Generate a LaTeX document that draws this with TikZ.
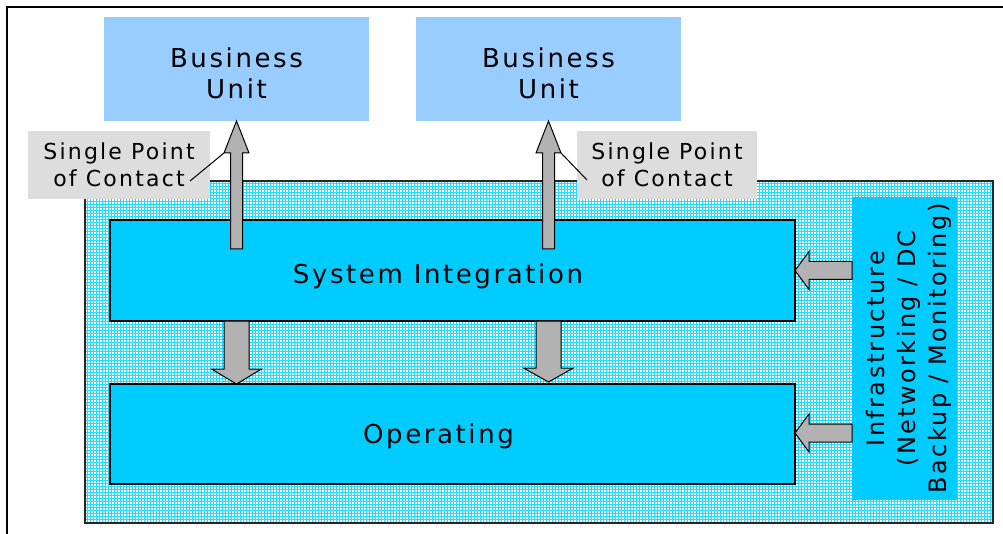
\documentclass[tikz,border=0pt]{standalone}
\usepackage{fontspec}
\setmainfont{DejaVu Sans}[LetterSpace=10]
\usetikzlibrary{patterns,calc}
\definecolor{bublue}{HTML}{99CCFF}
\definecolor{sicyan}{HTML}{00CCFF}
\definecolor{lblgray}{HTML}{DDDDDD}
\definecolor{arrgray}{HTML}{B2B2B2}
\definecolor{gridcyan}{HTML}{20DDFF}
\begin{document}
\begin{tikzpicture}[x=1pt,y=-1pt,
  box/.style={rectangle, inner sep=0pt, outer sep=0pt},
  bubox/.style={box, fill=bublue, minimum width=265pt, minimum height=104pt},
  spcbox/.style={box, fill=lblgray, minimum height=68pt, align=center,
    font=\fontsize{22}{27}\selectfont},
  layerbox/.style={box, fill=sicyan, draw=black, line width=1.2pt,
    minimum width=685pt},
  bigtext/.style={inner sep=0pt, align=center, font=\fontsize{26}{31}\selectfont},
  infratext/.style={inner sep=0pt, align=center, font=\fontsize{24}{31}\selectfont},
  blockarrow/.style={fill=arrgray, draw=black, line width=1pt, line join=miter},
  callout/.style={draw=black, line width=1pt},
]
\useasboundingbox (0,0) rectangle (1003,534);
% outer frame (cropped)
\draw[line width=2pt, black] (7,534) -- (7,7) -- (1003,7);
% hatched background
\node[box, minimum width=908pt, minimum height=342pt, preaction={fill=white},
  pattern=grid, pattern color=gridcyan, draw=black!85, line width=1.3pt] (bg) at (539,352) {};
% business units
\node[bubox] (bu1) at (236.5,69) {};
\node[bubox] (bu2) at (548.5,69) {};
\node[bigtext] (bu1t) at ($(bu1.center)+(0,4.5)$) {Business\\Unit};
\node[bigtext] (bu2t) at ($(bu2.center)+(0,4.5)$) {Business\\Unit};
% layers
\node[layerbox, minimum height=101pt] (si) at (452.5,270.5) {};
\node[layerbox, minimum height=100pt] (op) at (452.5,434) {};
\node[box, fill=sicyan, minimum width=105pt, minimum height=303pt] (infra) at (904.5,348.5) {};
\node[bigtext] (sit) at ($(si.center)+(-14.5,5.5)$) {System Integration};
\node[bigtext] (opt) at ($(op.center)+(-14,2)$) {Operating};
\node[infratext, rotate=90] (infrat) at ($(infra.center)+(4.5,0)$)
  {Infrastructure\\(Networking / DC\\Backup / Monitoring)};
% up arrows
\draw[blockarrow] (bu1.south) -- ++(12.5,32) -- ++(-6.5,0) -- ++(0,96) -- ++(-12,0)
  -- ++(0,-96) -- ++(-6.5,0) coordinate (h1l) -- cycle;
\draw[blockarrow] (bu2.south) -- ++(12.5,32) coordinate (h2r) -- ++(-6.5,0) -- ++(0,96) -- ++(-12,0)
  -- ++(0,-96) -- ++(-6.5,0) -- cycle;
% down arrows
\draw[blockarrow] ($(bu1.south |- si.south)+(-12.5,0)$) -- ++(25,0) -- ++(0,48) -- ++(12.5,0)
  -- (bu1.south |- op.north) -- ++(-25,-15) -- ++(12.5,0) -- cycle;
\draw[blockarrow] ($(bu2.south |- si.south)+(-12.5,0)$) -- ++(25,0) -- ++(0,47) -- ++(12.5,0)
  -- ($(bu2.south |- op.north)+(0,-2)$) -- ++(-25,-14) -- ++(12.5,0) -- cycle;
% left arrows
\draw[blockarrow] (si.east) -- ++(14,-19) -- ++(0,10) -- ($(infra.west |- si.east)+(0,-9)$)
  -- ++(0,18) -- ($(si.east)+(14,9)$) -- ++(0,10) -- cycle;
\draw[blockarrow] ($(op.east)+(0,-1)$) -- ++(14,-19) -- ++(0,10) -- ($(infra.west |- op.east)+(0,-10)$)
  -- ++(0,18) -- ($(op.east)+(14,8)$) -- ++(0,10) -- cycle;
% single point of contact labels
\node[spcbox, minimum width=182pt] (spc1) at (119,165) {Single Point\\of Contact};
\node[spcbox, minimum width=180pt] (spc2) at (667,165) {Single Point\\of Contact};
\coordinate (c1) at ($(spc1.center)+(71,16)$);
\coordinate (c2) at ($(spc2.center)+(-80,15)$);
\draw[callout] (c1) -- (h1l);
\draw[callout] (c2) -- (h2r);
\end{tikzpicture}
\end{document}
